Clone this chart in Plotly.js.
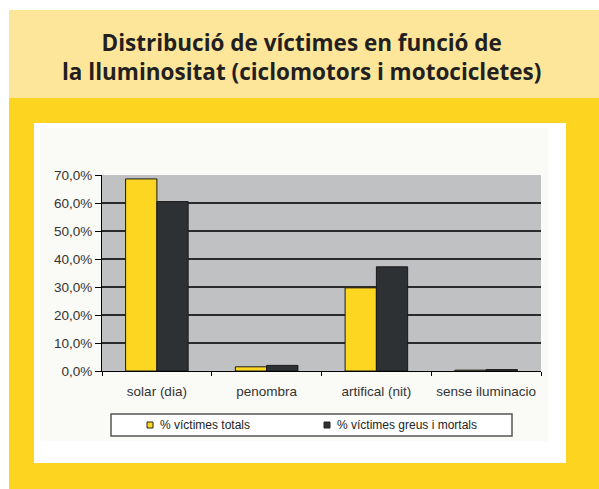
<!DOCTYPE html>
<html>
<head>
<meta charset="utf-8">
<script src="https://cdn.plot.ly/plotly-3.0.1.min.js"></script>
<style>
html,body{margin:0;padding:0;background:#fff;}
#chart{width:599px;height:489px;}
</style>
</head>
<body>
<div id="chart"></div>
<script>
// ---- data ----
const categories = ['solar (dia)', 'penombra', 'artifical (nit)', 'sense iluminacio'];
const totals = [68.6, 1.5, 29.7, 0.3];
const greus = [60.5, 2.0, 37.2, 0.5];
const seriesNames = ['% víctimes totals', '% víctimes greus i mortals'];
const yTickVals = [0, 10, 20, 30, 40, 50, 60, 70];
const yTickText = ['0,0%', '10,0%', '20,0%', '30,0%', '40,0%', '50,0%', '60,0%', '70,0%'];
const titleLines = ['Distribució de víctimes en funció de', 'la lluminositat (ciclomotors i motocicletes)'];

// ---- styling ----
const W = 599, H = 489;
const L = 102, R = 541, T = 175, B = 371;
const colors = ['#fdd622', '#2e3133'];
const px = x => (x - L) / (R - L);
const py = y => (B - y) / (B - T);
function rect(x0, y0, x1, y1, fill, line) {
  return {type: 'rect', xref: 'paper', yref: 'paper', layer: 'below',
    x0: px(x0), x1: px(x1), y0: py(y1), y1: py(y0),
    fillcolor: fill, line: line || {width: 0}};
}

const traces = [totals, greus].map((vals, i) => ({
  type: 'bar', x: categories, y: vals, name: seriesNames[i],
  marker: {color: colors[i], line: {color: '#1a1a1a', width: 1}},
  hoverinfo: 'skip', showlegend: false
}));

const shapes = [
  rect(9, 10, 599, 98, '#fde699'),
  rect(9, 98, 599, 489, '#fdd41f'),
  rect(34, 123, 566, 463, '#ffffff'),
  rect(40, 128, 548, 441, '#fafaf7'),
  rect(L, T, R, B, '#c0c1c3'),
  rect(111, 414, 512, 436, '#ffffff', {color: '#555', width: 1.5}),
];
const annotations = [];
// title (one text block, two lines)
annotations.push({
  xref: 'paper', yref: 'paper', x: px(301), y: py(57),
  xanchor: 'center', yanchor: 'middle', showarrow: false, align: 'center',
  text: titleLines.join('<br>'),
  font: {family: 'Open Sans', size: 22.5, weight: 700, color: '#231f20'}
});
// legend
const legX = [150, 327];
seriesNames.forEach((n, i) => {
  shapes.push({type: 'rect', xref: 'paper', yref: 'paper', layer: 'above',
    x0: px(legX[i] - 3), x1: px(legX[i] + 3), y0: py(428), y1: py(422),
    fillcolor: colors[i], line: {color: '#222', width: 1}});
  annotations.push({xref: 'paper', yref: 'paper', x: px(legX[i] + 8), y: py(425),
    xanchor: 'left', yanchor: 'middle', showarrow: false, text: n,
    font: {family: 'Liberation Sans', size: 12, color: '#222'}});
});

const layout = {
  width: W, height: H,
  margin: {l: L, r: W - R, t: T, b: H - B, pad: 0},
  paper_bgcolor: '#ffffff', plot_bgcolor: 'rgba(0,0,0,0)',
  barmode: 'group', bargap: 0.43, bargroupgap: 0,
  showlegend: false,
  xaxis: {
    type: 'category', showline: true, linecolor: '#000', linewidth: 1,
    ticks: 'outside', tickson: 'boundaries', ticklen: 4, tickcolor: '#000',
    ticklabelstandoff: 8,
    tickfont: {family: 'Liberation Sans', size: 13.5, color: '#333'},
    showgrid: false, zeroline: false, fixedrange: true
  },
  yaxis: {
    range: [0, 70], tickvals: yTickVals, ticktext: yTickText,
    showline: true, linecolor: '#000', linewidth: 1,
    ticks: 'outside', ticklen: 6, tickcolor: '#000',
    tickfont: {family: 'Liberation Sans', size: 13.5, color: '#333'},
    showgrid: true, gridcolor: '#2a2a2a', gridwidth: 1.5,
    zeroline: false, fixedrange: true
  },
  shapes: shapes,
  annotations: annotations
};

Plotly.newPlot('chart', traces, layout, {staticPlot: true, displayModeBar: false});
</script>
</body>
</html>
